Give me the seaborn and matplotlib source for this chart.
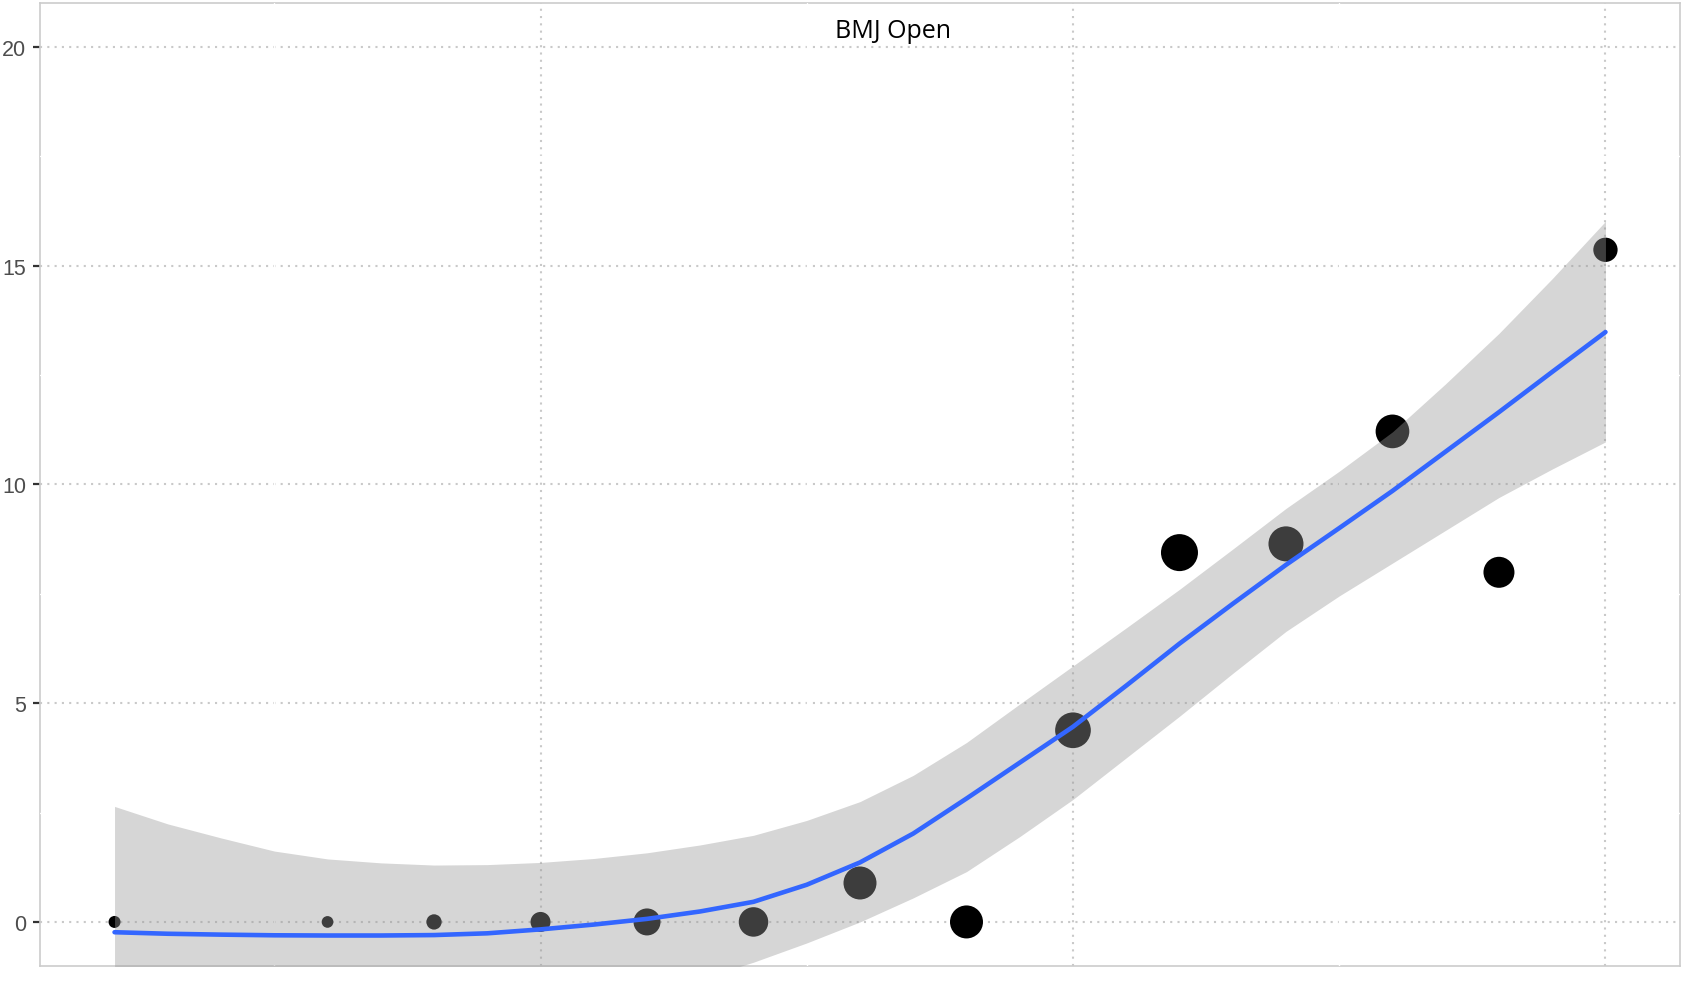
import numpy as np
import pandas as pd
import matplotlib
matplotlib.use("Agg")
import matplotlib.pyplot as plt
import seaborn as sns

# Observed yearly values (x = year index, y = value, diam = marker diameter in px)
point_x = [1, 3, 4, 5, 6, 7, 8, 9, 10, 11, 12, 13, 14, 15]
point_y = [0, 0, 0, 0, 0, 0, 0.89, 0, 4.38, 8.44, 8.64, 11.21, 7.99, 15.36]
point_diam = [12, 11.7, 15.3, 20, 27, 29.5, 33, 33, 35.7, 37, 35, 33.7, 31, 24.3]

# Smoothed trend and its confidence band
fit_x = [1, 1.5, 2, 2.5, 3, 3.5, 4, 4.5, 5, 5.5, 6, 6.5, 7, 7.5, 8, 8.5, 9, 9.5,
         10, 10.5, 11, 11.5, 12, 12.5, 13, 13.5, 14, 14.5, 15]
fit_y = [-0.235, -0.27, -0.29, -0.305, -0.31, -0.31, -0.30, -0.26, -0.17, -0.06,
         0.07, 0.24, 0.46, 0.85, 1.36, 2.02, 2.82, 3.64, 4.46, 5.40, 6.36, 7.27,
         8.16, 9.00, 9.85, 10.75, 11.65, 12.57, 13.48]
fit_upper = [2.64, 2.24, 1.92, 1.62, 1.44, 1.35, 1.30, 1.31, 1.36, 1.45, 1.58,
             1.76, 1.98, 2.32, 2.75, 3.35, 4.10, 4.98, 5.85, 6.72, 7.60, 8.52,
             9.45, 10.30, 11.20, 12.30, 13.45, 14.70, 16.01]
fit_lower = [-3.11, -2.78, -2.50, -2.23, -2.06, -1.97, -1.90, -1.84, -1.74, -1.62,
             -1.48, -1.30, -0.92, -0.48, 0.00, 0.55, 1.15, 1.95, 2.80, 3.75,
             4.70, 5.68, 6.64, 7.45, 8.20, 8.95, 9.70, 10.35, 10.97]

y_ticks = [0, 5, 10, 15, 20]
title_text = "BMJ Open"

DPI = 100
px_to_pt = 72 / DPI

points = pd.DataFrame({
    "x": point_x,
    "y": point_y,
    "area": [(d * px_to_pt) ** 2 for d in point_diam],
})
fit = pd.DataFrame({"x": fit_x, "y": fit_y, "lo": fit_lower, "hi": fit_upper})

sns.set_theme(style="white")
plt.rcParams["font.family"] = ["Liberation Sans", "DejaVu Sans"]

fig = plt.figure(figsize=(16.82, 10.03), dpi=DPI)
ax = fig.add_axes([40 / 1682, 36.3 / 1003, 1640 / 1682, 962.7 / 1003])
ax.set_facecolor("white")

# Dotted major grid, white minor grid
ax.set_axisbelow(True)
grid_kw = dict(color="#c9c9c9", linewidth=1.5, linestyle=(0, (1, 2.5)), zorder=0.5)
for v in [5, 10, 15]:
    ax.axvline(v, **grid_kw)
for v in y_ticks:
    ax.axhline(v, **grid_kw)
minor_kw = dict(color="white", linewidth=1.0, zorder=2.6)
for v in [2.5, 7.5, 12.5]:
    ax.axvline(v, **minor_kw)
for v in [2.5, 7.5, 12.5, 17.5]:
    ax.axhline(v, **minor_kw)

# Points
area_min, area_max = points["area"].min(), points["area"].max()
sns.scatterplot(data=points, x="x", y="y", size="area",
                sizes=(area_min, area_max), size_norm=(area_min, area_max),
                color="black", linewidth=0, legend=False, ax=ax, zorder=3)

# Confidence band over the points, then the trend line
ax.fill_between(fit["x"], fit["lo"], fit["hi"], color="#999999", alpha=0.4,
                linewidth=0, zorder=4)
sns.lineplot(data=fit, x="x", y="y", color="#3366FF", linewidth=3.3, ax=ax,
             zorder=5)

ax.text(8.31, 20.22, title_text, ha="center", va="baseline", fontsize=18,
        color="black", family=["Open Sans", "DejaVu Sans"], zorder=6)

ax.set_xlim(0.3, 15.7)
ax.set_ylim(-1, 21)
ax.set_xticks([])
ax.set_yticks(y_ticks)
ax.set_yticklabels([str(t) for t in y_ticks])
ax.tick_params(axis="y", left=True, length=5, width=1.6, color="#333333",
               pad=5, labelsize=15.5, labelcolor="#4d4d4d")
ax.set_xlabel("")
ax.set_ylabel("")
for s in ax.spines.values():
    s.set_visible(True)
    s.set_color("#cccccc")
    s.set_linewidth(1.2)

fig.savefig("out.png", dpi=DPI)
